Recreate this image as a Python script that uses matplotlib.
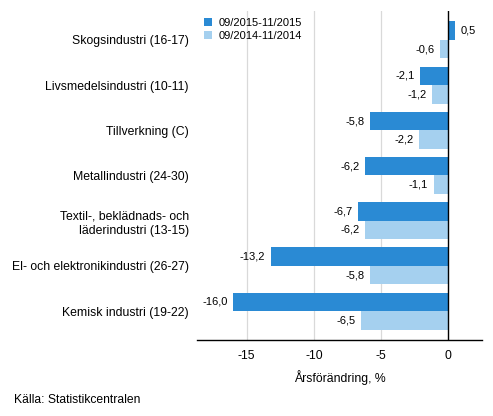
import numpy as np
import matplotlib
matplotlib.use("Agg")
import matplotlib.pyplot as plt

plt.rcParams["font.family"] = ["Liberation Sans", "DejaVu Sans"]

categories = [
    "Skogsindustri (16-17)",
    "Livsmedelsindustri (10-11)",
    "Tillverkning (C)",
    "Metallindustri (24-30)",
    "Textil-, beklädnads- och\nläderindustri (13-15)",
    "El- och elektronikindustri (26-27)",
    "Kemisk industri (19-22)",
]
series_names = ["09/2015-11/2015", "09/2014-11/2014"]
values_2015 = [0.5, -2.1, -5.8, -6.2, -6.7, -13.2, -16.0]
values_2014 = [-0.6, -1.2, -2.2, -1.1, -6.2, -5.8, -6.5]
x_ticks = [-15, -10, -5, 0]

dark = "#2a8ad4"
light = "#a5d0ef"

fig = plt.figure(figsize=(4.93, 4.16), dpi=100)
ax = fig.add_axes([0.3996, 0.1827, 0.5781, 0.7909])

y = np.arange(len(categories))
h = 0.41
b1 = ax.barh(y - h / 2, values_2015, height=h, color=dark, label=series_names[0], zorder=2)
b2 = ax.barh(y + h / 2, values_2014, height=h, color=light, label=series_names[1], zorder=2)

for bars, vals in ((b1, values_2015), (b2, values_2014)):
    for bar, v in zip(bars, vals):
        txt = f"{v:.1f}".replace(".", ",")
        cy = bar.get_y() + bar.get_height() / 2
        if v >= 0:
            ax.annotate(txt, (v, cy), xytext=(4, 0), textcoords="offset points",
                        ha="left", va="center", fontsize=8)
        else:
            ax.annotate(txt, (v, cy), xytext=(-4, 0), textcoords="offset points",
                        ha="right", va="center", fontsize=8)

ax.set_xlim(-18.7, 2.5)
ax.set_ylim(len(categories) - 0.36, -0.64)
ax.set_yticks(y)
ax.set_yticklabels(categories, fontsize=8.8, linespacing=1.35)
ax.set_xticks(x_ticks)
ax.set_xticklabels([str(t) for t in x_ticks], fontsize=8.8)
ax.tick_params(axis="y", length=0, pad=6)
ax.tick_params(axis="x", length=0, pad=7)

for t in x_ticks[:-1]:
    ax.axvline(t, color="#d9d9d9", lw=0.9, zorder=1)
ax.axvline(0, color="black", lw=1.0, zorder=3)

for s in ("top", "right", "left"):
    ax.spines[s].set_visible(False)
ax.spines["bottom"].set_linewidth(1.0)

ax.set_xlabel("Årsförändring, %", fontsize=8.8, labelpad=6)

ax.legend(loc="upper left", bbox_to_anchor=(0.0, 1.0), frameon=False, fontsize=8,
          handlelength=0.75, handleheight=0.75, handletextpad=0.6, labelspacing=0.3,
          borderaxespad=0.2)

fig.text(14 / 493, 1 - 400 / 416, "Källa: Statistikcentralen", fontsize=8.7, va="center")

fig.savefig("out.png", dpi=100)
